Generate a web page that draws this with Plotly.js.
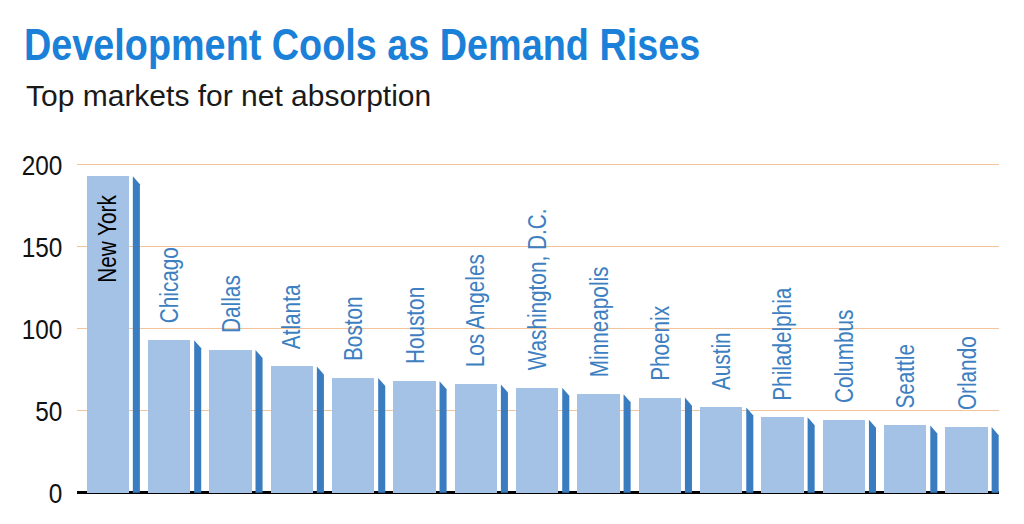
<!DOCTYPE html>
<html>
<head>
<meta charset="utf-8">
<script src="https://cdn.plot.ly/plotly-3.0.1.min.js"></script>
<style>
  html, body { margin: 0; padding: 0; background: #fff; }
  #chart { width: 1024px; height: 524px; }
</style>
</head>
<body>
<div id="chart"></div>
<script>
// Top markets for net absorption
const markets = ["New York", "Chicago", "Dallas", "Atlanta", "Boston", "Houston",
  "Los Angeles", "Washington, D.C.", "Minneapolis", "Phoenix", "Austin",
  "Philadelphia", "Columbus", "Seattle", "Orlando"];
const absorption = [193, 93, 87, 77, 70, 68, 66, 64, 60, 58, 52, 46, 44.5, 41, 40];
const yTicks = [0, 50, 100, 150, 200];

const SANS = '"Liberation Sans", Arial, sans-serif';
const LIGHT = '#a3c2e6';
const DARK = '#3a7cc0';
const LABEL = '#3d7fc1';

// light front face of each bar
const front = {
  type: 'bar',
  x: markets,
  y: absorption,
  width: 0.69,
  marker: { color: LIGHT, line: { width: 0 } },
  hoverinfo: 'x+y'
};

// dark side panel with a bevelled top, placed to the right of each face
const sideX0 = 0.41, sideX1 = 0.525, bevel = 4.9;
const sides = absorption.map((v, i) => ({
  type: 'path',
  xref: 'x', yref: 'y',
  path: `M ${i + sideX0},0 L ${i + sideX0},${v} L ${i + sideX1},${v - bevel} L ${i + sideX1},0 Z`,
  fillcolor: DARK,
  line: { width: 0 }
}));

// market names, rotated above each bar (inside the tallest one)
const labels = markets.map((m, i) => {
  const inside = i === 0;
  return {
    x: m, y: absorption[i],
    xref: 'x', yref: 'y',
    text: m,
    showarrow: false,
    textangle: -90,
    xanchor: 'center',
    yanchor: inside ? 'top' : 'bottom',
    yshift: inside ? -17 : 15,
    font: { family: SANS, size: 25, color: inside ? '#000' : LABEL }
  };
});

// subtitle line under the heading
labels.push({
  xref: 'paper', yref: 'paper',
  x: (24 - 77) / 922, y: (496 - 95) / 338,
  xanchor: 'left', yanchor: 'middle',
  text: 'Top markets for net absorption',
  showarrow: false,
  font: { family: SANS, size: 30, color: '#1a1a1a' }
});

const layout = {
  width: 1024, height: 524,
  paper_bgcolor: '#fff', plot_bgcolor: '#fff',
  margin: { l: 77, r: 25, t: 158, b: 28 },
  showlegend: false,
  title: {
    text: 'Development Cools as Demand Rises',
    xref: 'container', yref: 'container',
    x: 24 / 1024, xanchor: 'left',
    y: 1 - 44 / 524, yanchor: 'middle',
    font: { family: SANS, size: 45, weight: 700, color: '#1a80d8' }
  },
  xaxis: {
    type: 'category',
    range: [-0.5, 14.53],
    showticklabels: false,
    ticks: '',
    showgrid: false,
    zeroline: false,
    showline: false,
    fixedrange: true
  },
  yaxis: {
    range: [-2, 204.1],
    tickvals: yTicks,
    ticktext: yTicks.map(String),
    ticks: 'outside', ticklen: 8, tickcolor: 'rgba(0,0,0,0)',
    tickfont: { family: SANS, size: 28, color: '#111' },
    showgrid: true, gridcolor: '#f3c39a', gridwidth: 1,
    zeroline: true, zerolinecolor: '#000', zerolinewidth: 3,
    showline: false,
    fixedrange: true
  },
  shapes: sides,
  annotations: labels,
  bargap: 0
};

// narrow a text element horizontally (in its own frame), keeping one edge fixed
function condense(el, s, side) {
  const b = el.getBBox();
  const ox = side === 'start' ? b.x : side === 'end' ? b.x + b.width : b.x + b.width / 2;
  const prev = el.getAttribute('transform') || '';
  el.setAttribute('transform', `${prev} translate(${ox},0) scale(${s},1) translate(${-ox},0)`);
}

Plotly.newPlot('chart', [front], layout, { displayModeBar: false, staticPlot: true }).then(gd => {
  gd.querySelectorAll('text.gtitle').forEach(t => condense(t, 0.84, 'start'));
  gd.querySelectorAll('.ytick text').forEach(t => condense(t, 0.87, 'end'));
  gd.querySelectorAll('g.annotation').forEach(g => {
    const idx = +g.getAttribute('data-index');
    if (idx >= markets.length) return;
    const t = g.querySelector('text.annotation-text');
    if (t) condense(t, 0.83, idx === 0 ? 'end' : 'start');
  });
});
</script>
</body>
</html>
